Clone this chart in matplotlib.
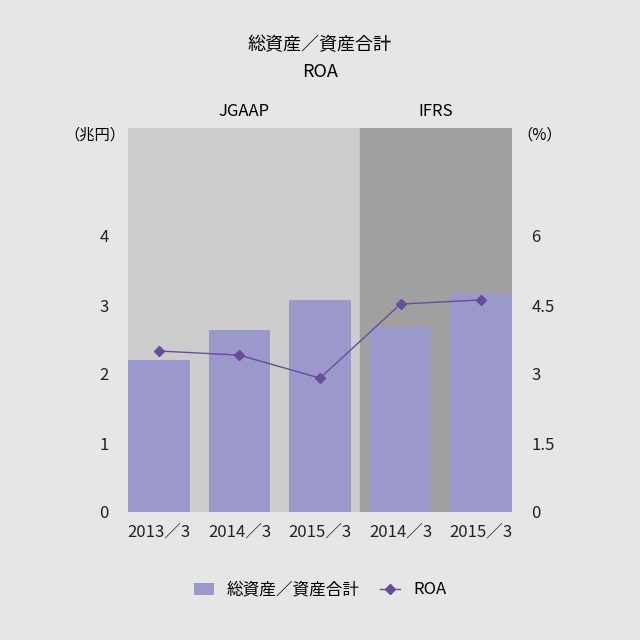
import matplotlib.pyplot as plt
import numpy as np

plt.rcParams['font.family'] = 'Noto Sans CJK JP'

categories = ['2013／3', '2014／3', '2015／3', '2014／3', '2015／3']
assets = [2.2, 2.64, 3.07, 2.68, 3.16]
roa = [3.5, 3.41, 2.91, 4.52, 4.61]
left_ticks = [0, 1, 2, 3, 4]
right_ticks = ['0', '1.5', '3', '4.5', '6']

fig = plt.figure(figsize=(6.4, 6.4), dpi=100)
fig.patch.set_facecolor('#e6e6e6')
ax = fig.add_axes([0.2, 0.2, 0.6, 0.6])
x = np.arange(len(categories))
ax.set_xlim(-0.385, 4.385)
ymax = 384 / 69
ax.set_ylim(0, ymax)
ax.axvspan(-0.385, 2.5, color='#cccccc', zorder=0)
ax.axvspan(2.5, 4.385, color='#a0a0a0', zorder=0)
bars = ax.bar(x, assets, width=0.77, color='#9b98cb', zorder=2, label='総資産／資産合計')

ax2 = ax.twinx()
ax2.set_ylim(0, ymax * 1.5)
line, = ax2.plot(x, roa, color='#6a4c9c', marker='D', markersize=5, lw=1, label='ROA')

for a in (ax, ax2):
    for s in a.spines.values():
        s.set_visible(False)
    a.tick_params(length=0, labelsize=12, colors='#222222')
ax.set_xticks(x)
ax.set_xticklabels(categories)
ax.set_yticks(left_ticks)
ax.tick_params(axis='y', pad=14)
ax2.set_yticks([0, 1.5, 3, 4.5, 6])
ax2.set_yticklabels(right_ticks)
ax2.tick_params(axis='y', pad=14)
ax.tick_params(axis='x', pad=8)

fig.text(0.5, 0.93, '総資産／資産合計', ha='center', va='center', fontsize=13)
fig.text(0.5, 0.887, 'ROA', ha='center', va='center', fontsize=13)
fig.text(244 / 640, 1 - 112 / 640, 'JGAAP', ha='center', va='center', fontsize=12)
fig.text(436 / 640, 1 - 112 / 640, 'IFRS', ha='center', va='center', fontsize=12)
fig.text(95 / 640, 1 - 135 / 640, '（兆円）', ha='center', va='center', fontsize=11)
fig.text(540 / 640, 1 - 135 / 640, '（%）', ha='center', va='center', fontsize=11)

fig.legend([bars, line], ['総資産／資産合計', 'ROA'], loc='center', bbox_to_anchor=(0.5, 1 - 590 / 640),
           ncol=2, frameon=False, fontsize=12, handlelength=1.2, columnspacing=1.2)
fig.savefig('out.png', facecolor=fig.get_facecolor())
